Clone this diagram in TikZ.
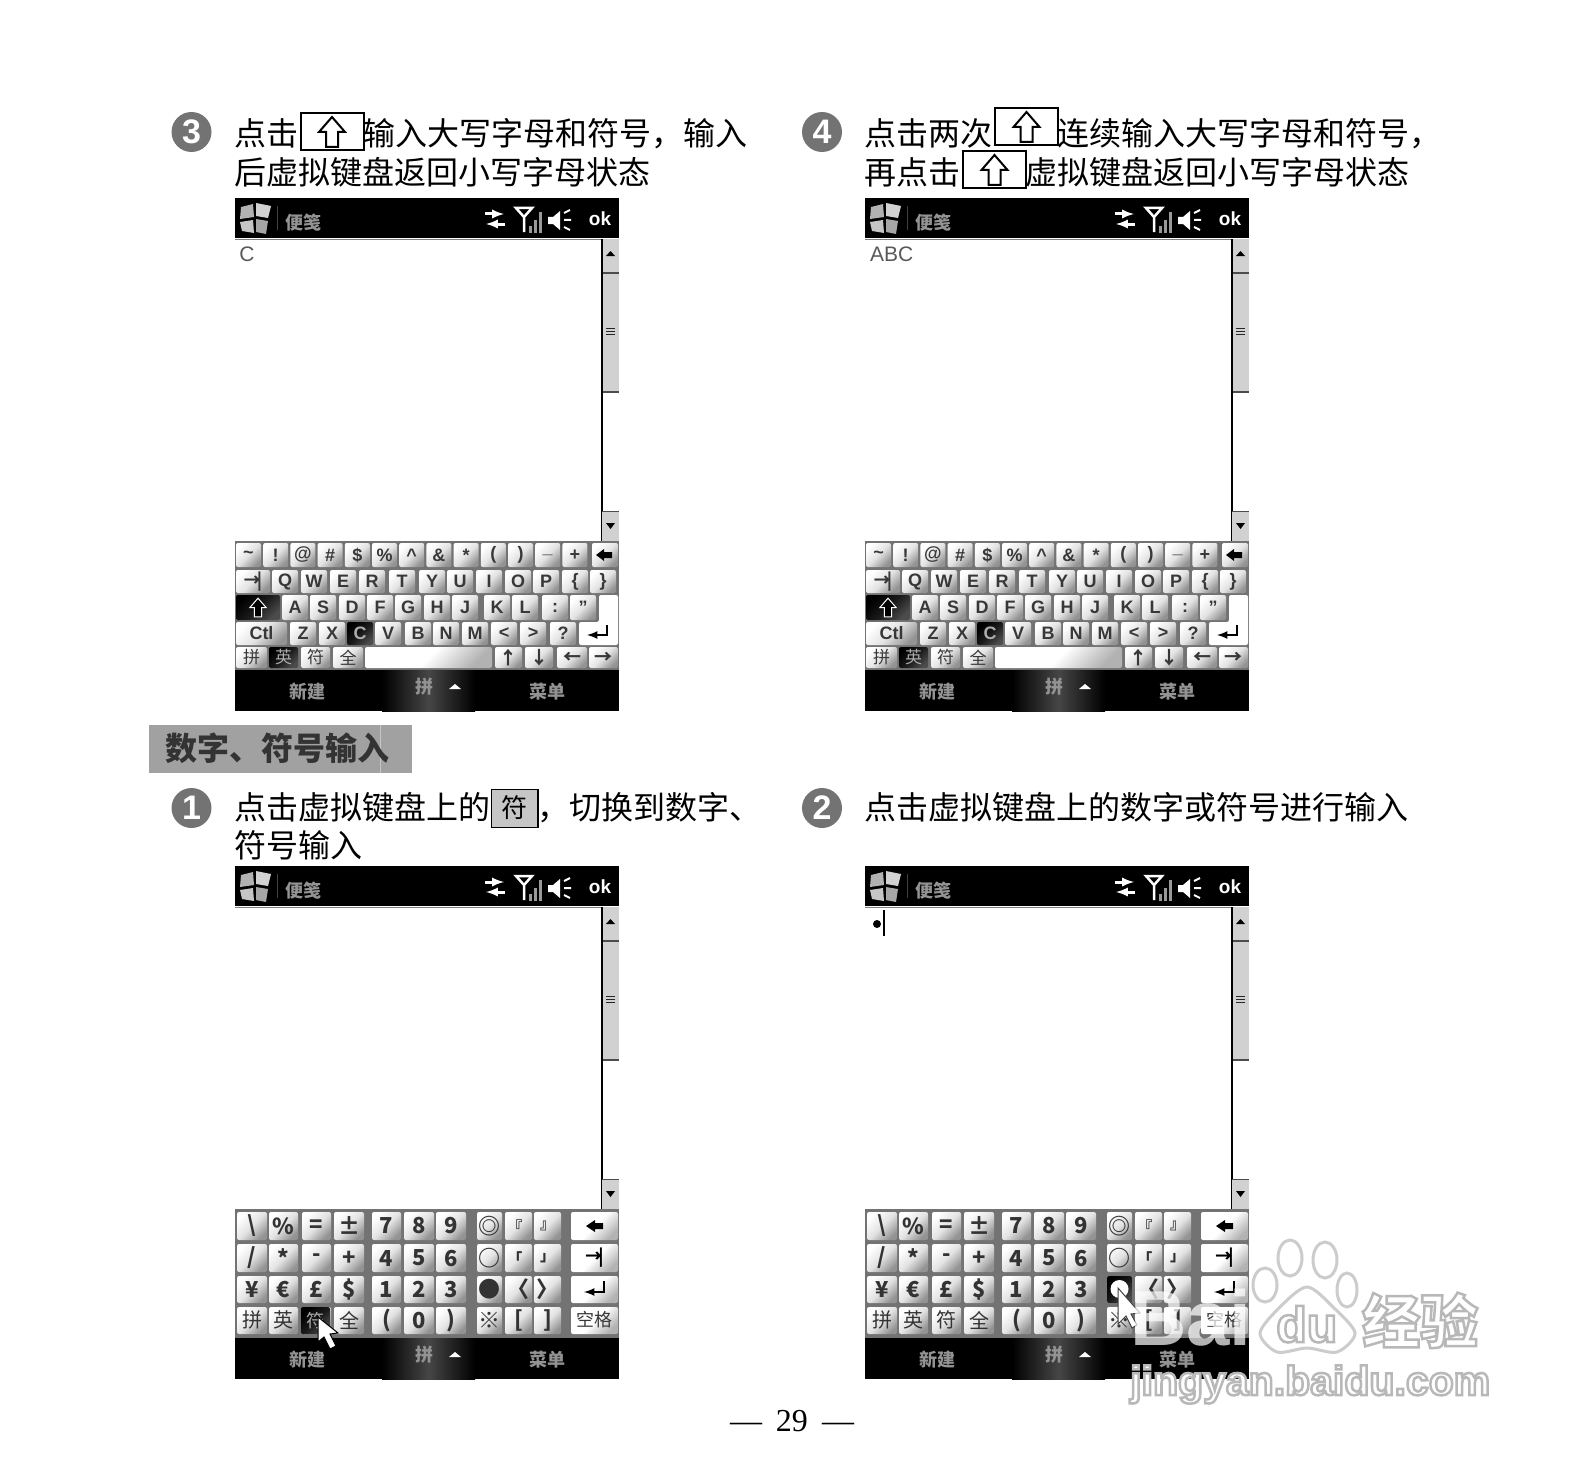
\documentclass[tikz,border=0pt]{standalone}
\usepackage{fontspec}
\setmainfont{Noto Sans CJK SC}
\setsansfont{Liberation Sans}
\newfontfamily\pagefont{Liberation Serif}
\newcommand{\fsize}[1]{\fontsize{#1}{#1}\selectfont}
\newcommand{\arw}[1]{{\normalfont\bfseries #1}}
\newcommand{\tabmark}{{\normalfont\bfseries\fsize{17}→\hspace{-4pt}|}}
\newcommand{\openmark}[1]{\fsize{15}\hspace{-.5em}#1}
\newcommand{\closemark}[1]{\fsize{15}#1\hspace{-.5em}}
\newcommand{\hzcap}[1]{\mdseries\fsize{20}#1}
% outlined text: white inside, grey stroke
\newcommand{\wmstroke}[1]{\special{pdf:code 2 Tr 2.5 w 0.72 G}#1\special{pdf:code 0 Tr}}
\definecolor{keygap}{gray}{.45}
\definecolor{barfill}{gray}{.82}
\definecolor{headfill}{gray}{.63}
\definecolor{keyink}{gray}{.22}
\tikzset{
  stepline/.style={anchor=base west,inner sep=0pt,font=\fsize{32}},
  stepdot/.style={circle,fill=black!55,text=white,inner sep=0pt,minimum size=40pt,font=\sffamily\bfseries\fsize{34}},
  shiftbox/.style={draw=black,line width=2pt,minimum width=63pt,minimum height=37pt,inner sep=0pt},
  keybox/.style={inner sep=0pt,rounded corners=2pt,top color=white,bottom color=gray!85,middle color=gray!22,shading angle=45,text=keyink,font=\sffamily\bfseries\fsize{18}},
  keydark/.style={keybox,top color=black,bottom color=gray!60!black,middle color=black!90,shading angle=45,text=gray!65},
  keylit/.style={keybox,top color=white,bottom color=gray!60,middle color=white,shading angle=45},
  softkey/.style={text=gray!85,inner sep=0pt,font=\bfseries\fsize{18}},
  wmtext/.style={text=white,inner sep=0pt,anchor=base west},
  wmline/.style={draw=gray!40,fill=white,line width=3pt},
  shiftglyph/.pic={
    \path[pic actions] (0,-15) -- (13,0) -- (6,0) -- (6,15) -- (-6,15) -- (-6,0) -- (-13,0) -- cycle;
  }
}
% one key: left, right, top, bottom, style, name, label
\newcommand{\kbkey}[7]{%
  \node[#5,minimum width={(#2)-(#1)},minimum height={(#4)-(#3)}] (#6) at ({((#1)+(#2))/2},{((#3)+(#4))/2}) {#7};}
% black title bar, scroll bar and soft keys of one screen
\newcommand{\screenframe}{%
  \fill[black] (0,0) rectangle (384,40);
  \fill[gray!60] (6,9) -- (18,6) -- (19,19) -- (5,21) -- cycle;
  \fill[gray!35] (21,5) -- (36,8) -- (33,20) -- (21,18) -- cycle;
  \fill[gray!45] (5,24) -- (18,22) -- (19,35) -- (7,33) -- cycle;
  \fill[gray!70] (21,21) -- (33,23) -- (31,36) -- (21,34) -- cycle;
  \draw[gray!50!black] (42,8) -- (42,32);
  \node[softkey] (title) at (68,25) {便笺};
  \draw[white,line width=3pt,-latex] (250,16) -- (269,16);
  \draw[white,line width=3pt,-latex] (270,26) -- (251,26);
  \draw[white,line width=2.5pt] (281,10) -- (297,10) -- (289,19) -- cycle (289,19) -- (289,34);
  \foreach \bx/\bt in {295/28,300/22,305/14}
    \draw[gray!80,line width=3pt] (\bx,35) -- (\bx,\bt);
  \fill[white] (313,19) -- (318,19) -- (325,13) -- (325,32) -- (318,26) -- (313,26) -- cycle;
  \draw[white,line width=2pt] (329,15) -- (335,12) (329,22) -- (336,22) (329,29) -- (335,32);
  \node[text=white,inner sep=0pt,font=\sffamily\bfseries\fsize{19}] (okmark) at (365,21) {ok};
  \draw[gray,line width=1pt] (0,41) -- (384,41);
  \fill[barfill] (367,41) rectangle (384,74);
  \fill[black] (375.5,53) -- (380,58) -- (371,58) -- cycle;
  \fill[barfill] (367,74) rectangle (384,194);
  \draw[gray!60!black,line width=1.5pt] (367,75) -- (384,75) (367,194) -- (384,194);
  \foreach \gy in {130,133,136}
    \draw[gray!30!black] (371,\gy) -- (380,\gy);
  \draw[black,line width=1.5pt] (367,41) -- (367,343);
  \fill[barfill] (367,313) rectangle (384,343);
  \draw[gray!60!black] (367,313) -- (384,313);
  \fill[black] (371,325) -- (380,325) -- (375.5,331) -- cycle;
  \fill[black] (0,472) rectangle (384,513);
  \shade[left color=black,right color=black,middle color=gray!55!black] (147,472) rectangle (240,513);
  \node[softkey] (softleft) at (72,494) {新建};
  \node[softkey] (softmid) at (189,489) {拼};
  \fill[white] (220,486) -- (226,491) -- (214,491) -- cycle;
  \node[softkey] (softright) at (312,494) {菜单};
}
\newcommand{\qwertykeys}{%
  \fill[keygap] (0,343) rectangle (384,472);
  \foreach \klab [count=\ki from 0] in {\textasciitilde,!,@,\#,\$,\%,\^{},\&,*,{(},{)},\_,+}
    \kbkey{1+27.2*\ki}{26+27.2*\ki}{345}{369}{keybox}{a\ki}{\klab};
  \kbkey{357}{383}{345}{369}{keybox}{backkey}{}
  \fill[black] (361,357) -- (369,351) -- (369,354) -- (377,354) -- (377,360) -- (369,360) -- (369,363) -- cycle;
  \kbkey{1}{35}{372}{395}{keybox}{tabkey}{\tabmark}
  \foreach \kx/\klab [count=\ki] in {50/Q,79/W,108/E,137/R,167/T,197/Y,225/U,254/I,283/O,311/P,340/\{,368/\}}
    \kbkey{\kx-13}{\kx+13}{372}{395}{keybox}{b\ki}{\klab};
  \kbkey{1}{45}{397}{422}{keydark}{capskey}{}
  \pic[draw=white,fill=black,line width=1pt,scale=.62] at (23,409.5) {shiftglyph};
  \foreach \kx/\klab [count=\ki] in {60/A,88/S,117/D,145/F,173/G,202/H,230/J,262/K,290/L,320/:,348/"}
    \kbkey{\kx-13}{\kx+13}{397}{422}{keybox}{c\ki}{\klab};
  \fill[white,rounded corners=2pt] (364,397) -- (383,397) -- (383,447) -- (344,447) -- (344,424) -- (364,424) -- cycle;
  \kbkey{1}{52}{424}{447}{keybox}{ctlkey}{Ctl}
  \foreach \kx/\klab/\kst [count=\ki] in {68/Z/keybox,97/X/keybox,125/C/\capletter,153/V/keybox,183/B/keybox,211/N/keybox,240/M/keybox,269/</keybox,298/>/keybox,328/?/keybox}
    \kbkey{\kx-13}{\kx+13}{424}{447}{\kst}{d\ki}{\klab};
  \draw[black,line width=2.5pt,-latex] (372,427) -- (372,437) -- (352,437);
  \foreach \kl/\kr/\klab/\kst [count=\ki] in {1/32/拼/keybox,34/63/英/keydark,66/95/符/keybox,98/128/全/keybox}
    \kbkey{\kl}{\kr}{449}{470}{\kst}{e\ki}{\normalfont\fsize{17}\klab};
  \kbkey{130}{257}{449}{470}{keylit}{spacekey}{}
  \foreach \kl/\kr/\klab [count=\ki] in {260/287/↑,290/318/↓,322/352/←,354/383/→}
    \kbkey{\kl}{\kr}{449}{470}{keybox}{f\ki}{\arw{\klab}};
}
\newcommand{\fucap}{\hzcap{符}}
\newcommand{\dotcap}{●}
\newcommand{\symbolkeys}{%
  \fill[keygap] (0,343) rectangle (384,472);
  \foreach \ky/\kb [count=\kr] in {346/374,378/406,410/437,441/468}{
    \foreach \kl/\kw [count=\kc] in {2/30,34/29,67/29,99/30,137/29,169/30,201/30,242/25,270/27,299/27}
      \kbkey{\kl}{\kl+\kw}{\ky}{\kb}{keybox}{g\kr-\kc}{};
    \kbkey{336}{383}{\ky}{\kb}{keylit}{g\kr-11}{};
  }
  % key caps, row by row
  \foreach \ky/\rowlab in {360/0,392/1,423/2,454/3}{
    \foreach \kx/\kA/\kB/\kC/\kD [count=\kc] in
      {17/\textbackslash/{/}/¥/\hzcap{拼},48.5/\%/*/€/\hzcap{英},81.5/=/-/£/\fucap,114/±/+/\$/\hzcap{全},151.5/7/4/1/{(},184/8/5/2/0,216/9/6/3/{)},254.5/◎/○/\dotcap/※,283.5/\openmark{『}/\openmark{「}/〈/[,312.5/\closemark{』}/\closemark{」}/〉/]}{
      \ifcase\rowlab\def\klab{\kA}\or\def\klab{\kB}\or\def\klab{\kC}\or\def\klab{\kD}\fi
      \node[text=black!80,inner sep=0pt,font=\bfseries\fsize{22}] (cap\rowlab-\kc) at (\kx,\ky) {\klab};
    }
  }
  \fill[black] (351,360) -- (360,354) -- (360,357) -- (368,357) -- (368,363) -- (360,363) -- (360,366) -- cycle;
  \node[text=black,inner sep=0pt] (captab) at (359.5,392) {\tabmark};
  \draw[black,line width=2.5pt,-latex] (369,415) -- (369,426) -- (349,426);
  \node[text=keyink,inner sep=0pt,font=\fsize{18}] (capspace) at (359.5,454) {空格};
}
\def\capletter{keydark}
\begin{document}
\begin{tikzpicture}[x=1pt,y=-1pt]
  \useasboundingbox (0,0) rectangle (1587,1474);
  \fill[white] (0,0) rectangle (1587,1474);

  % step 3
  \node[stepdot] (dot3) at (191.5,132) {3};
  \node[stepline] (t3a) at (234,146) {点击};
  \node[shiftbox] (shift3) at (332,132) {};
  \pic[draw=black,fill=white,line width=2pt] at (shift3.center) {shiftglyph};
  \node[stepline] (t3b) at (363,146) {输入大写字母和符号，输入};
  \node[stepline] (t3c) at (234,185) {后虚拟键盘返回小写字母状态};

  % step 4
  \node[stepdot] (dot4) at (822,132) {4};
  \node[stepline] (t4a) at (864,146) {点击两次};
  \node[shiftbox] (shift4a) at (1026.5,127) {};
  \pic[draw=black,fill=white,line width=2pt] at (shift4a.center) {shiftglyph};
  \node[stepline] (t4b) at (1057,146) {连续输入大写字母和符号，};
  \node[stepline] (t4c) at (864,185) {再点击};
  \node[shiftbox] (shift4b) at (994.5,170) {};
  \pic[draw=black,fill=white,line width=2pt] at (shift4b.center) {shiftglyph};
  \node[stepline] (t4d) at (1025,185) {虚拟键盘返回小写字母状态};

  % heading
  \node[fill=headfill,minimum width=263pt,minimum height=48pt,inner sep=0pt] (headbar) at (280.5,749) {};
  \draw[gray!45] (380,725) -- (380,773);
  \node[anchor=base west,inner sep=0pt,text=black!80,font=\bfseries\fsize{32}] (headtext) at (165,760) {数字、符号输入};

  % step 1
  \node[stepdot] (dot1) at (191.5,808) {1};
  \node[stepline] (t1a) at (234,819) {点击虚拟键盘上的};
  \node[draw=black,fill=gray!45,line width=1pt,minimum width=46pt,minimum height=38pt,inner sep=0pt,font=\fsize{26}] (fukey) at (514.5,808) {符};
  \draw[black,line width=1.5pt] (fukey.south west) -- (fukey.south east) -- (fukey.north east);
  \node[stepline] (t1b) at (537,819) {，切换到数字、};
  \node[stepline] (t1c) at (234,857) {符号输入};

  % step 2
  \node[stepdot] (dot2) at (822,808) {2};
  \node[stepline] (t2a) at (864,819) {点击虚拟键盘上的数字或符号进行输入};

  % the four screens
  \begin{scope}[shift={(235,198)},name prefix=s3-]
    \screenframe
    \node[text=gray!70!black,inner sep=0pt,font=\sffamily\fsize{21}] (typed) at (12,56) {C};
    \qwertykeys
  \end{scope}
  \begin{scope}[shift={(865,198)},name prefix=s4-]
    \screenframe
    \node[anchor=west,text=gray!70!black,inner sep=0pt,font=\sffamily\fsize{21}] (typed) at (5,56) {ABC};
    \qwertykeys
  \end{scope}
  \begin{scope}[shift={(235,866)},name prefix=s1-]
    \screenframe
    \renewcommand{\fucap}{}
    \symbolkeys
    \kbkey{66}{95}{441}{468}{keydark}{fudown}{\normalfont\fsize{18}符}
    \draw[black,fill=white,line width=1pt] (83,451) -- (83,476) -- (89,471) -- (95,483) -- (101,480) -- (95,468) -- (103,467) -- cycle;
  \end{scope}
  \begin{scope}[shift={(865,866)},name prefix=s2-]
    \screenframe
    \fill[black] (12,58) circle (4);
    \draw[black,line width=1.5pt] (19,44) -- (19,70);
    \renewcommand{\dotcap}{}
    \symbolkeys
    \kbkey{242}{267}{410}{437}{keydark}{dotdown}{}
    \fill[white] (254.5,423) circle (9);
    \draw[gray!50!black,fill=white,line width=1pt] (253,422) -- (253,458) -- (261,450) -- (267,462) -- (272,459) -- (266,448) -- (275,447) -- cycle;
  \end{scope}

  % watermark
  \node[text=white,opacity=.7,anchor=base west,inner sep=0pt,font=\sffamily\bfseries\fsize{78}] (wmbai) at (1130,1345) {Bai};
  \draw[wmline] (1265,1285) ellipse [x radius=12,y radius=17];
  \draw[wmline] (1290,1258) ellipse [x radius=12,y radius=18];
  \draw[wmline] (1325,1260) ellipse [x radius=12,y radius=18];
  \draw[wmline] (1347,1290) ellipse [x radius=10,y radius=17];
  \draw[wmline] plot[smooth cycle] coordinates {(1307,1287) (1333,1307) (1355,1333) (1337,1352) (1307,1348) (1277,1352) (1260,1333) (1280,1307)};
  \node[wmtext,font=\sffamily\bfseries\fsize{50}] (wmdu) at (1276,1342) {\wmstroke{du}};
  \node[wmtext,font=\bfseries\fsize{58}] (wmjy) at (1362,1343) {\wmstroke{经验}};
  \node[wmtext,font=\sffamily\bfseries\fsize{41}] (wmurl) at (1130,1395) {\wmstroke{jingyan.baidu.com}};

  % page number
  \node[inner sep=0pt,font=\pagefont\fsize{32}] (folio) at (792,1421) {—\hspace{14pt}29\hspace{14pt}—};
\end{tikzpicture}
\end{document}
